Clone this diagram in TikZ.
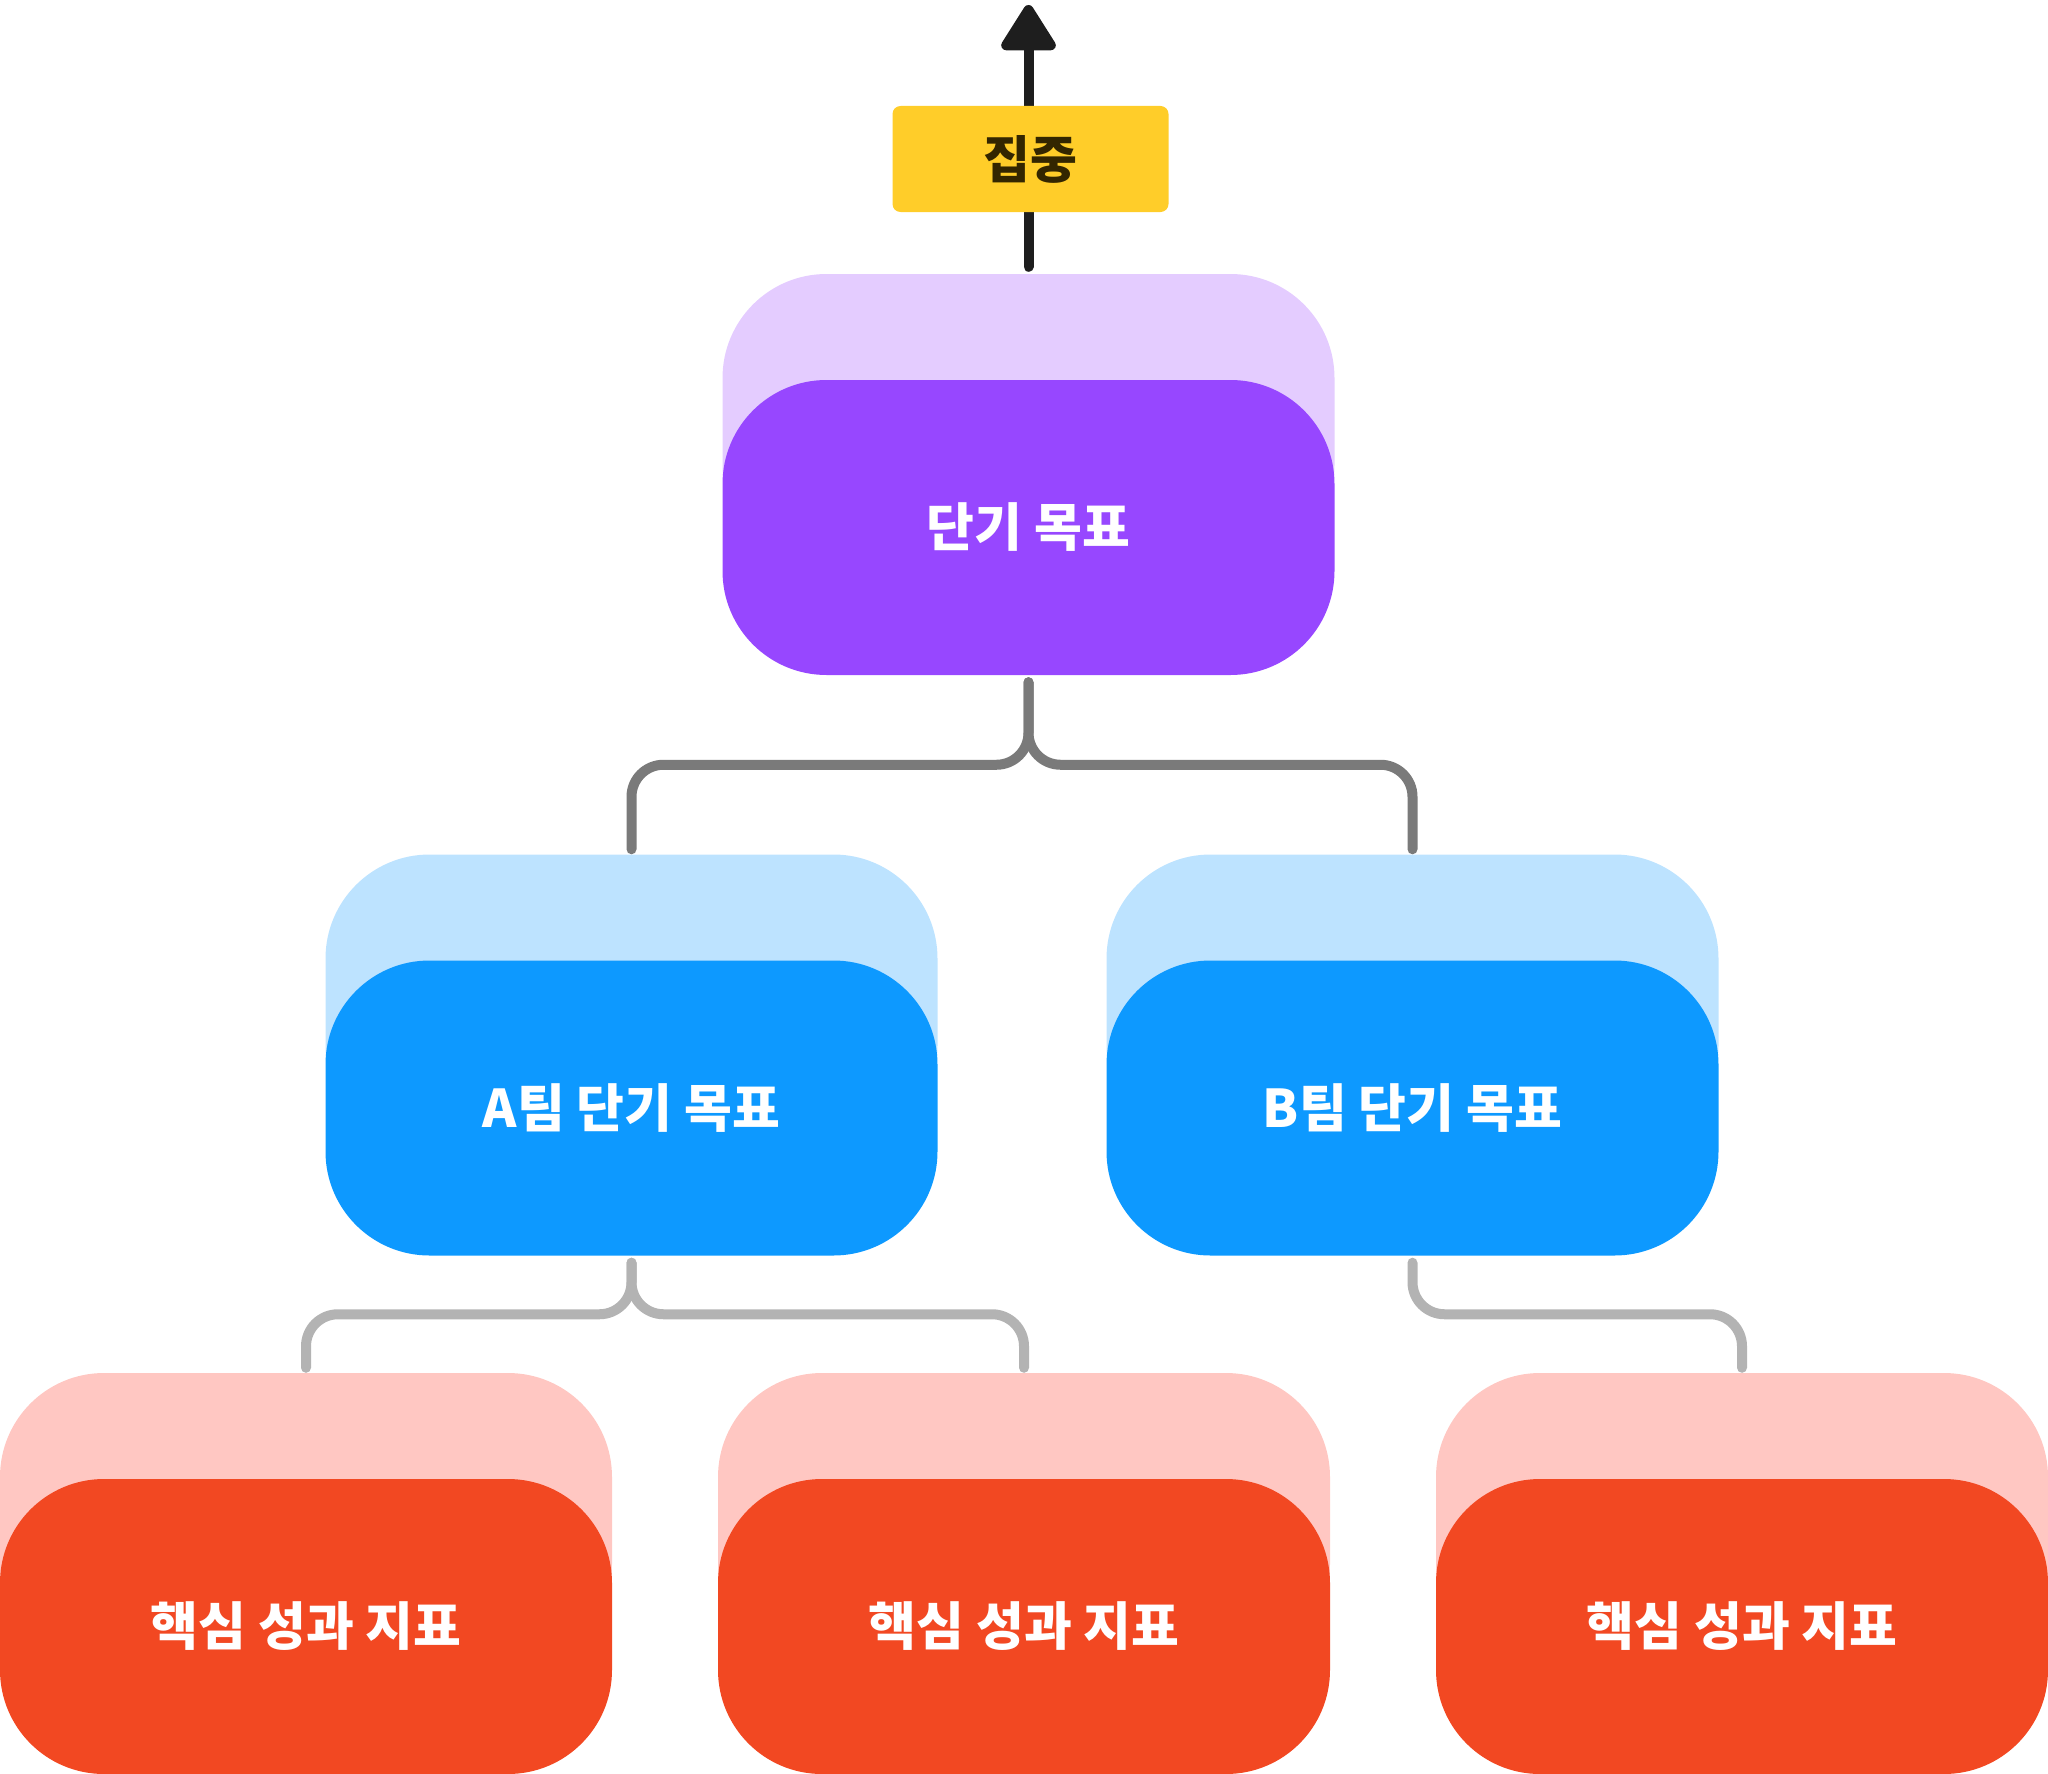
\documentclass[tikz,border=0pt]{standalone}
\usepackage{fontspec}
\newfontfamily\krfont{Noto Sans CJK KR}
\usetikzlibrary{calc}
\usetikzlibrary{arrows.meta}

\definecolor{goalfront}{HTML}{9747FF}
\definecolor{goalback}{HTML}{E4CCFF}
\definecolor{teamfront}{HTML}{0D99FF}
\definecolor{teamback}{HTML}{BDE3FF}
\definecolor{kpifront}{HTML}{F24822}
\definecolor{kpiback}{HTML}{FFC7C2}
\definecolor{focusfill}{HTML}{FFCD29}
\definecolor{focustext}{HTML}{332600}
\definecolor{arrowdark}{HTML}{1E1E1E}
\definecolor{linkdark}{HTML}{7A7A7A}
\definecolor{linklight}{HTML}{B3B3B3}

\begin{document}
\begin{tikzpicture}[x=1pt,y=-1pt,
  card/.style={minimum width=612pt,minimum height=295pt,inner sep=0pt,rounded corners=104pt,
    text=white,font=\krfont\bfseries\fontsize{52}{62}\selectfont},
  link/.style={line width=10pt,line cap=round,rounded corners=32pt}]

\useasboundingbox (0,0) rectangle (2048,1774);

\node[card,fill=goalback] (goalbk) at (1028.5,421.5) {};
\node[card,fill=goalfront] (goal) at (1028.5,527.5) {단기 목표};

\node[card,fill=teamback] (teamAbk) at (631.5,1002) {};
\node[card,fill=teamfront] (teamA) at (631.5,1108) {A팀 단기 목표};
\node[card,fill=teamback] (teamBbk) at (1412.5,1002) {};
\node[card,fill=teamfront] (teamB) at (1412.5,1108) {B팀 단기 목표};

\node[card,fill=kpiback] (kpiAbk) at (306,1520.5) {};
\node[card,fill=kpifront] (kpiA) at (306,1626.5) {핵심 성과 지표};
\node[card,fill=kpiback] (kpiBbk) at (1024,1520.5) {};
\node[card,fill=kpifront] (kpiB) at (1024,1626.5) {핵심 성과 지표};
\node[card,fill=kpiback] (kpiCbk) at (1742,1520.5) {};
\node[card,fill=kpifront] (kpiC) at (1742,1626.5) {핵심 성과 지표};

% goal to teams
\draw[link,linkdark] ([yshift=-7pt]goal.south) |- ($(goal.south)!.5!(teamAbk.north)$) -| ([yshift=5pt]teamAbk.north);
\draw[link,linkdark] ([yshift=-7pt]goal.south) |- ($(goal.south)!.5!(teamBbk.north)$) -| ([yshift=5pt]teamBbk.north);

% teams to kpis
\draw[link,linklight] ([yshift=-7pt]teamA.south) |- ($(teamA.south)!.5!(kpiAbk.north)$) -| ([yshift=5pt]kpiAbk.north);
\draw[link,linklight] ([yshift=-7pt]teamA.south) |- ($(teamA.south)!.5!(kpiBbk.north)$) -| ([yshift=5pt]kpiBbk.north);
\draw[link,linklight] ([yshift=-7pt]teamB.south) |- ($(teamB.south)!.5!(kpiCbk.north)$) -| ([yshift=5pt]kpiCbk.north);

\coordinate (tip) at (1028.5,5);
\draw[line width=10pt,arrowdark,line cap=round,-{Triangle[length=50pt,width=60pt,round]}] ([yshift=7pt]goalbk.north) -- (tip);

\node[fill=focusfill,minimum width=276pt,minimum height=106pt,inner sep=0pt,rounded corners=8pt,
  text=focustext,font=\krfont\bfseries\fontsize{51}{61}\selectfont] (focus) at (1030.5,159) {집중};

\end{tikzpicture}
\end{document}
